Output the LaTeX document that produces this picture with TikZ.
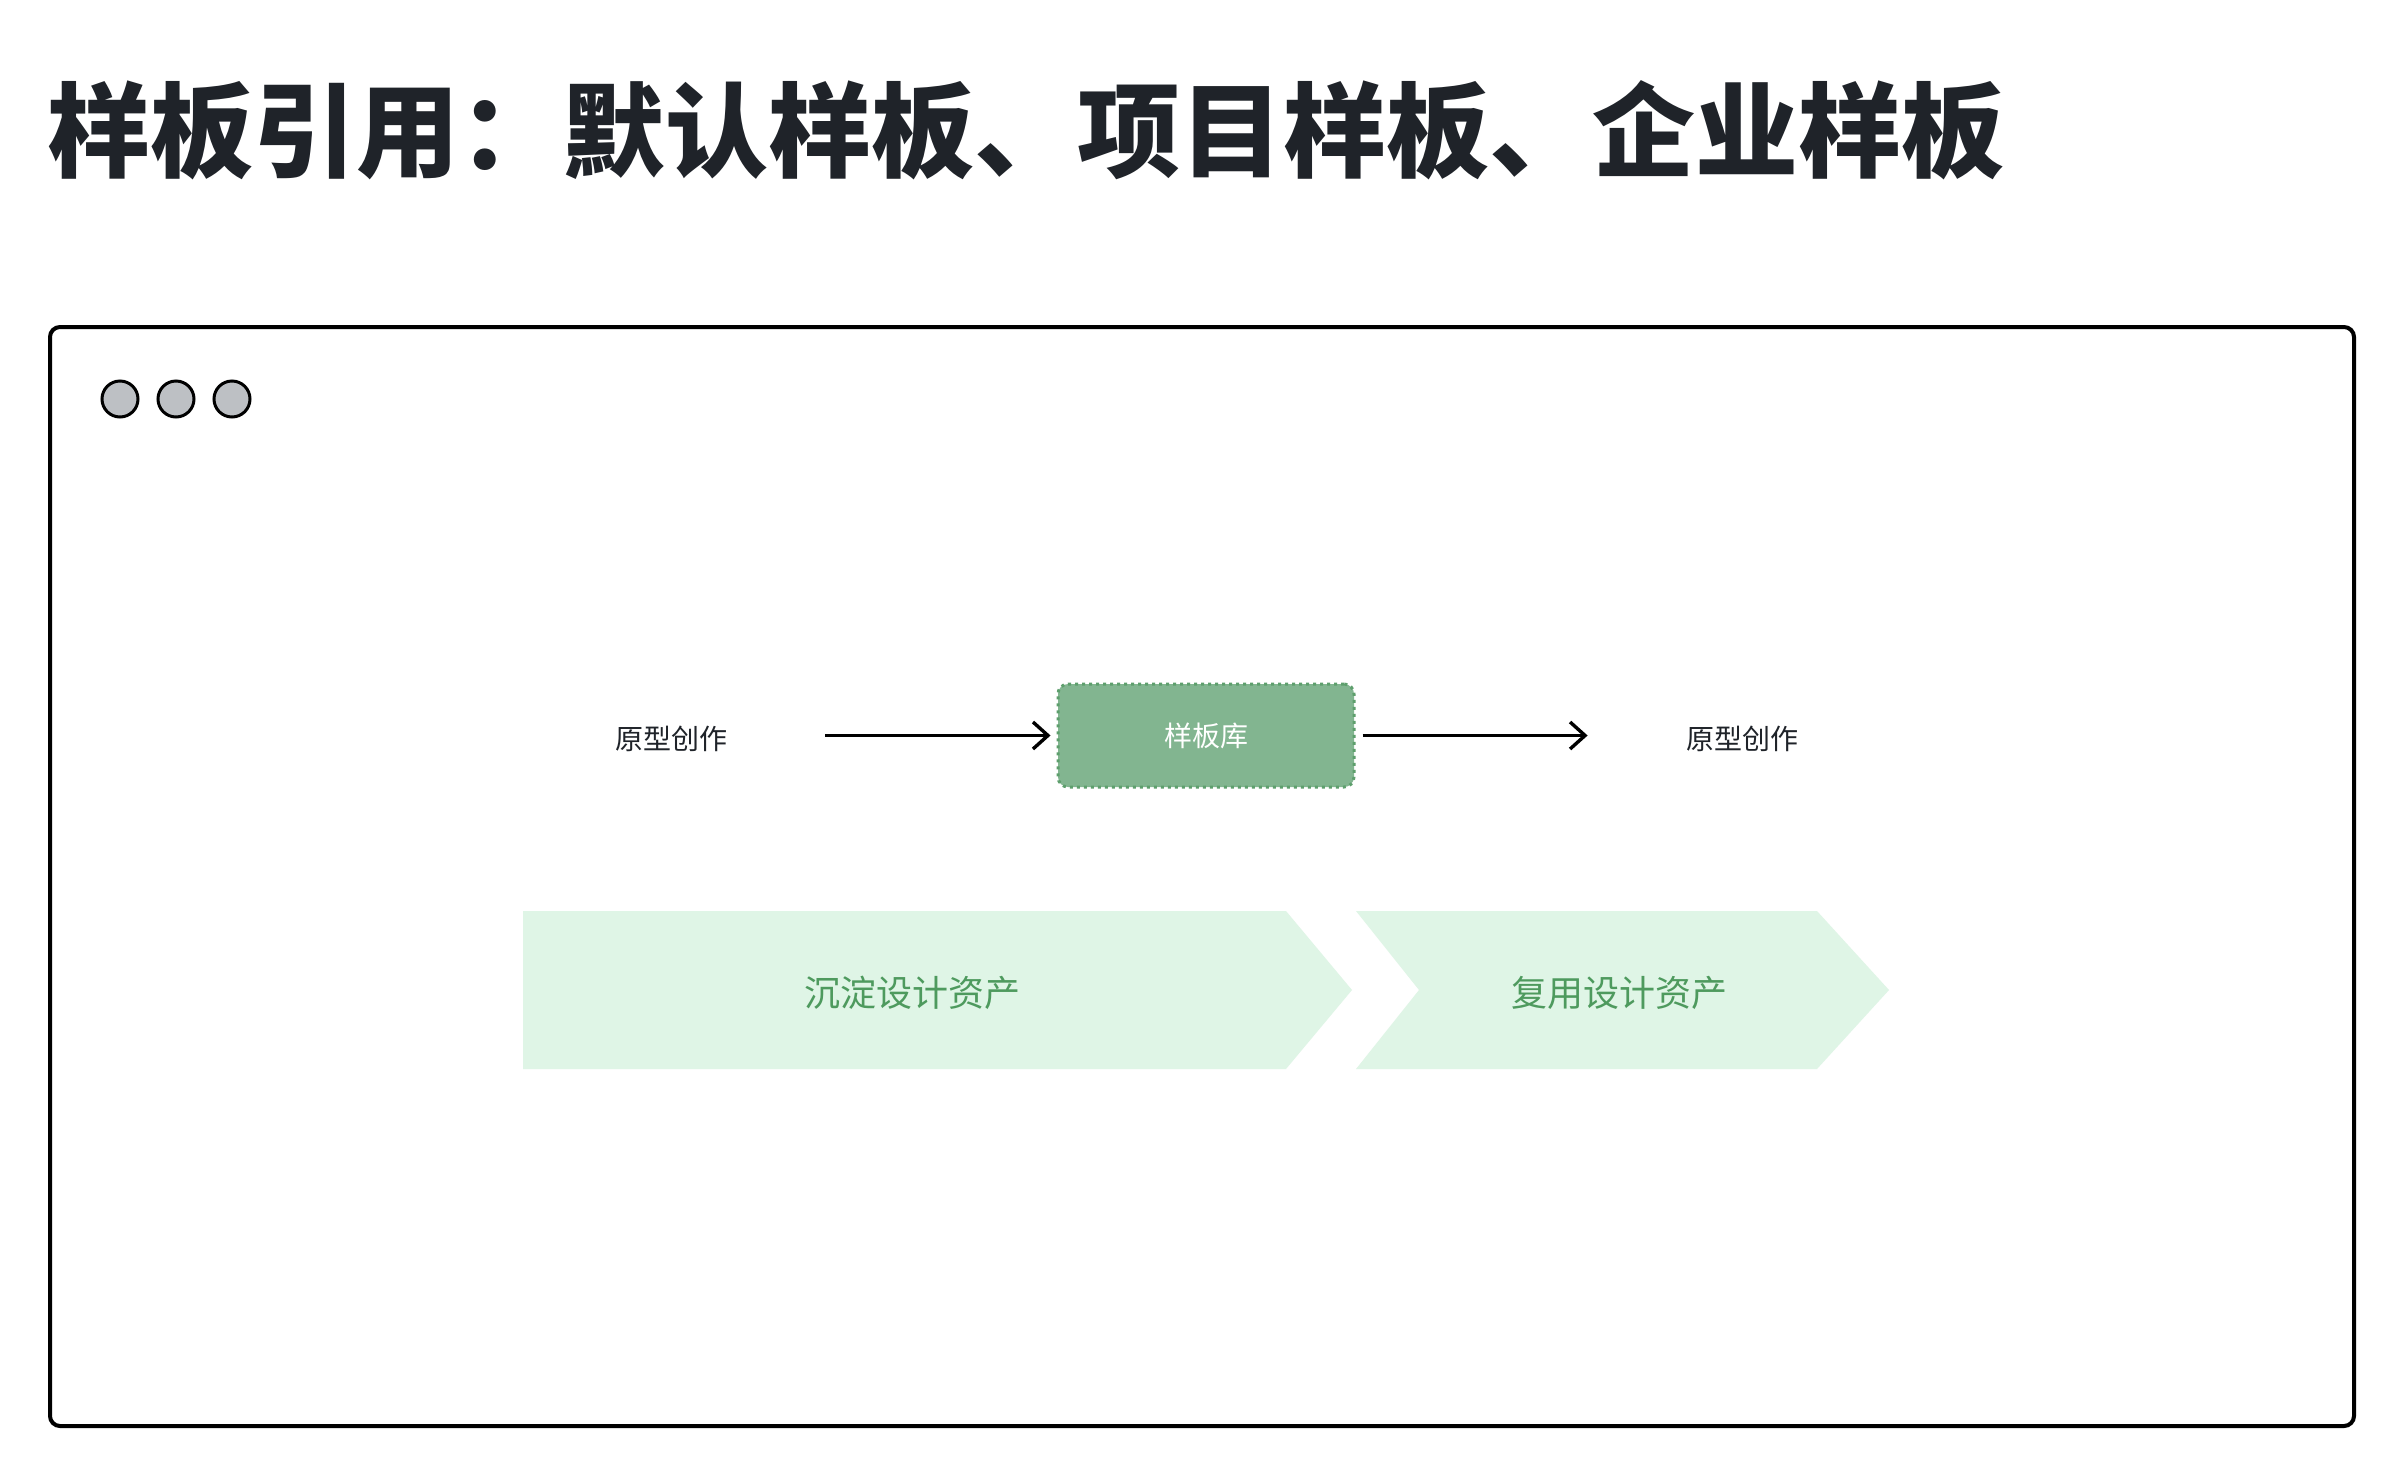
\documentclass[tikz,border=0pt]{standalone}
\usepackage{fontspec}
\setmainfont{Noto Sans CJK SC}
\usetikzlibrary{arrows.meta}
\definecolor{titlec}{HTML}{1F2329}
\definecolor{textc}{HTML}{1F2329}
\definecolor{dotgray}{HTML}{BDC0C4}
\definecolor{libfill}{HTML}{82B590}
\definecolor{libborder}{HTML}{5E9F6D}
\definecolor{chevfill}{HTML}{DFF5E6}
\definecolor{chevtext}{HTML}{4E9A5E}
\tikzset{
  frame/.style={draw=black, line width=2pt, rounded corners=5pt},
  windot/.style={circle, draw=black, fill=dotgray, line width=1.5pt, minimum size=18pt, inner sep=0pt},
  plaintext/.style={text=textc, inner sep=0pt, font=\fontsize{14pt}{14pt}\selectfont},
  libbox/.style={draw=libborder, fill=libfill, line width=1.5pt, dash pattern=on 1.5pt off 2pt, rounded corners=5pt, minimum width=148pt, minimum height=51.5pt, inner sep=0pt, text=white, font=\fontsize{14pt}{14pt}\selectfont},
  flow/.style={draw=black, line width=1.7pt, -{Straight Barb[length=7.5pt,width=13.5pt,line width=1.7pt]}},
  chev/.style={fill=chevfill, draw=none},
  chevlabel/.style={text=chevtext, inner sep=0pt, font=\fontsize{18pt}{18pt}\selectfont},
  titletext/.style={text=titlec, inner sep=0pt, anchor=base west, font=\fontsize{51.5pt}{51.5pt}\selectfont\bfseries}
}
\begin{document}
\begin{tikzpicture}[x=0.5pt, y=-0.5pt]
\useasboundingbox[fill=white] (0,0) rectangle (2404,1478);
% title
\node[titletext] (title) at (47,169) {样板引用：默认样板、项目样板、企业样板};
% window frame
\draw[frame] (50,327) rectangle (2354,1426);
\node[windot] (c1) at (120,399) {};
\node[windot] (c2) at (176,399) {};
\node[windot] (c3) at (232,399) {};
% flow row
\node[plaintext] (src) at (671,739) {原型创作};
\node[libbox] (lib) at (1206,735.5) {样板库};
\node[plaintext] (dst) at (1742,739) {原型创作};
\draw[flow, shorten <=49pt, shorten >=3pt] (src.east |- lib.west) -- (lib.west);
\draw[flow, shorten <=3.5pt, shorten >=49pt] (lib.east) -- (dst.west |- lib.east);
% chevrons
\fill[chev] (523,911) -- (1286,911) -- (1352,990) -- (1286,1069) -- (523,1069) -- cycle;
\fill[chev] (1356,911) -- (1817,911) -- (1889,990) -- (1817,1069) -- (1356,1069) -- (1419,990) -- cycle;
\node[chevlabel] (step1) at (912,993) {沉淀设计资产};
\node[chevlabel] (step2) at (1619,993) {复用设计资产};
\end{tikzpicture}
\end{document}
